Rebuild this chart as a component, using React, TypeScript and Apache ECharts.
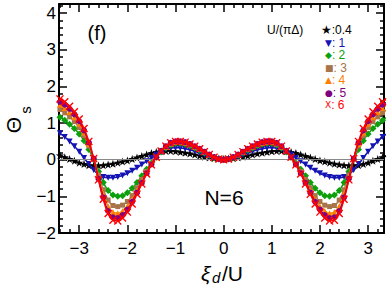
import React, { useEffect, useRef } from 'react';
import * as echarts from 'echarts';

// ξ_d/U sample positions
const xi = [
  -3.4, -3.3, -3.2, -3.1, -3.0, -2.9, -2.8, -2.7, -2.6, -2.5, -2.4, -2.3, -2.2, -2.1, -2.0, -1.9, -1.8,
  -1.7, -1.6, -1.5, -1.4, -1.3, -1.2, -1.1, -1.0, -0.9, -0.8, -0.7, -0.6, -0.5, -0.4, -0.3, -0.2, -0.1,
  0.0, 0.1, 0.2, 0.3, 0.4, 0.5, 0.6, 0.7, 0.8, 0.9, 1.0, 1.1, 1.2, 1.3, 1.4, 1.5, 1.6, 1.7,
  1.8, 1.9, 2.0, 2.1, 2.2, 2.3, 2.4, 2.5, 2.6, 2.7, 2.8, 2.9, 3.0, 3.1, 3.2, 3.3, 3.4,
];

// Θs for U/(πΔ) = 0.4
const thetaU04 = [
  0.12, 0.07, 0.02, -0.03, -0.08, -0.12, -0.15, -0.16, -0.16, -0.15, -0.13, -0.11, -0.08, -0.05, -0.02, 0.02, 0.06,
  0.10, 0.14, 0.18, 0.21, 0.23, 0.24, 0.24, 0.23, 0.21, 0.19, 0.17, 0.14, 0.11, 0.08, 0.06, 0.04, 0.03,
  0.02, 0.03, 0.04, 0.06, 0.08, 0.11, 0.14, 0.17, 0.19, 0.21, 0.23, 0.24, 0.24, 0.23, 0.21, 0.18, 0.14, 0.10,
  0.06, 0.02, -0.02, -0.05, -0.08, -0.11, -0.13, -0.15, -0.16, -0.16, -0.15, -0.12, -0.08, -0.03, 0.02, 0.07, 0.12,
];
// U/(πΔ) = 1
const thetaU1 = [
  0.72, 0.62, 0.50, 0.37, 0.22, 0.05, -0.12, -0.28, -0.40, -0.47, -0.49, -0.49, -0.47, -0.43, -0.37, -0.30, -0.22,
  -0.13, -0.04, 0.05, 0.14, 0.22, 0.28, 0.32, 0.33, 0.32, 0.30, 0.27, 0.23, 0.18, 0.13, 0.08, 0.04, 0.01,
  0.00, 0.01, 0.04, 0.08, 0.13, 0.18, 0.23, 0.27, 0.30, 0.32, 0.33, 0.32, 0.28, 0.22, 0.14, 0.05, -0.04, -0.13,
  -0.22, -0.30, -0.37, -0.43, -0.47, -0.49, -0.49, -0.47, -0.40, -0.28, -0.12, 0.05, 0.22, 0.37, 0.50, 0.62, 0.72,
];
// U/(πΔ) = 2
const thetaU2 = [
  1.16, 1.08, 0.97, 0.85, 0.70, 0.52, 0.28, 0.00, -0.32, -0.62, -0.84, -0.96, -1.00, -0.98, -0.90, -0.78, -0.62,
  -0.44, -0.26, -0.09, 0.07, 0.21, 0.32, 0.40, 0.44, 0.44, 0.42, 0.38, 0.32, 0.26, 0.19, 0.12, 0.06, 0.02,
  0.00, 0.02, 0.06, 0.12, 0.19, 0.26, 0.32, 0.38, 0.42, 0.44, 0.44, 0.40, 0.32, 0.21, 0.07, -0.09, -0.26, -0.44,
  -0.62, -0.78, -0.90, -0.98, -1.00, -0.96, -0.84, -0.62, -0.32, 0.00, 0.28, 0.52, 0.70, 0.85, 0.97, 1.08, 1.16,
];
// U/(πΔ) = 3
const thetaU3 = [
  1.37, 1.28, 1.17, 1.04, 0.88, 0.66, 0.38, 0.02, -0.42, -0.82, -1.10, -1.25, -1.28, -1.24, -1.14, -0.98, -0.77,
  -0.54, -0.32, -0.11, 0.07, 0.23, 0.35, 0.43, 0.47, 0.47, 0.45, 0.41, 0.35, 0.28, 0.21, 0.13, 0.07, 0.02,
  0.00, 0.02, 0.07, 0.13, 0.21, 0.28, 0.35, 0.41, 0.45, 0.47, 0.47, 0.43, 0.35, 0.23, 0.07, -0.11, -0.32, -0.54,
  -0.77, -0.98, -1.14, -1.24, -1.28, -1.25, -1.10, -0.82, -0.42, 0.02, 0.38, 0.66, 0.88, 1.04, 1.17, 1.28, 1.37,
];
// U/(πΔ) = 4
const thetaU4 = [
  1.50, 1.41, 1.30, 1.16, 0.98, 0.74, 0.43, 0.03, -0.47, -0.93, -1.27, -1.43, -1.46, -1.40, -1.27, -1.08, -0.85,
  -0.60, -0.35, -0.12, 0.07, 0.24, 0.36, 0.45, 0.49, 0.49, 0.47, 0.42, 0.36, 0.29, 0.22, 0.14, 0.07, 0.02,
  0.00, 0.02, 0.07, 0.14, 0.22, 0.29, 0.36, 0.42, 0.47, 0.49, 0.49, 0.45, 0.36, 0.24, 0.07, -0.12, -0.35, -0.60,
  -0.85, -1.08, -1.27, -1.40, -1.46, -1.43, -1.27, -0.93, -0.47, 0.03, 0.43, 0.74, 0.98, 1.16, 1.30, 1.41, 1.50,
];
// U/(πΔ) = 5
const thetaU5 = [
  1.58, 1.50, 1.39, 1.24, 1.05, 0.80, 0.47, 0.03, -0.52, -1.03, -1.40, -1.57, -1.59, -1.51, -1.36, -1.15, -0.90,
  -0.63, -0.37, -0.13, 0.07, 0.24, 0.37, 0.46, 0.50, 0.50, 0.48, 0.43, 0.37, 0.30, 0.22, 0.14, 0.07, 0.02,
  0.00, 0.02, 0.07, 0.14, 0.22, 0.30, 0.37, 0.43, 0.48, 0.50, 0.50, 0.46, 0.37, 0.24, 0.07, -0.13, -0.37, -0.63,
  -0.90, -1.15, -1.36, -1.51, -1.59, -1.57, -1.40, -1.03, -0.52, 0.03, 0.47, 0.80, 1.05, 1.24, 1.39, 1.50, 1.58,
];
// U/(πΔ) = 6
const thetaU6 = [
  1.66, 1.58, 1.46, 1.31, 1.11, 0.85, 0.50, 0.03, -0.55, -1.08, -1.47, -1.65, -1.67, -1.59, -1.43, -1.21, -0.94,
  -0.66, -0.39, -0.14, 0.07, 0.24, 0.37, 0.46, 0.50, 0.50, 0.48, 0.43, 0.37, 0.30, 0.22, 0.14, 0.07, 0.02,
  0.00, 0.02, 0.07, 0.14, 0.22, 0.30, 0.37, 0.43, 0.48, 0.50, 0.50, 0.46, 0.37, 0.24, 0.07, -0.14, -0.39, -0.66,
  -0.94, -1.21, -1.43, -1.59, -1.67, -1.65, -1.47, -1.08, -0.55, 0.03, 0.50, 0.85, 1.11, 1.31, 1.46, 1.58, 1.66,
];

const uLabels = ['0.4', '1', '2', '3', '4', '5', '6'];
const legendGlyphs = ['★', '▼', '◆', '■', '▲', '●', 'X'];
const seriesValues = [thetaU04, thetaU1, thetaU2, thetaU3, thetaU4, thetaU5, thetaU6];

const xMajorTicks = [-3, -2, -1, 0, 1, 2, 3];
const xMinorTicks = [
  -3.4, -3.2, -2.8, -2.6, -2.4, -2.2, -1.8, -1.6, -1.4, -1.2, -0.8, -0.6, -0.4, -0.2,
  0.2, 0.4, 0.6, 0.8, 1.2, 1.4, 1.6, 1.8, 2.2, 2.4, 2.6, 2.8, 3.2,
];
const yMajorTicks = [-2, -1, 0, 1, 2, 3, 4];
const yMinorTicks = [
  -1.8, -1.6, -1.4, -1.2, -0.8, -0.6, -0.4, -0.2, 0.2, 0.4, 0.6, 0.8, 1.2, 1.4, 1.6, 1.8,
  2.2, 2.4, 2.6, 2.8, 3.2, 3.4, 3.6, 3.8, 4.2,
];

const COLORS = ['#000000', '#1414b4', '#0ca00c', '#a8744a', '#ff8000', '#800080', '#ff0000'];
const STAR = 'path://M12,0 L14.9,8.1 L23.4,8.3 L16.6,13.5 L19.1,21.7 L12,16.8 L4.9,21.7 L7.4,13.5 L0.6,8.3 L9.1,8.1 Z';
const XMARK = 'path://M0,1.2 L1.2,0 L5,3.8 L8.8,0 L10,1.2 L6.2,5 L10,8.8 L8.8,10 L5,6.2 L1.2,10 L0,8.8 L3.8,5 Z';
const SYMBOLS = [STAR, 'triangle', 'diamond', 'rect', 'triangle', 'circle', XMARK];
const SYMBOL_ROTATE = [0, 180, 0, 0, 0, 0, 0];
const SYMBOL_SIZE = [8, 6, 7, 5, 6, 6, 8];

const X_MIN = -3.42;
const X_MAX = 3.33;
const Y_MIN = -2;
const Y_MAX = 4.25;
const FONT = '"Liberation Sans", Arial, sans-serif';

const fmt = (v: any) => String(v).replace('-', '\u2212');

function makeX(position: string, ticks: number[], len: number, labels: boolean, line: boolean) {
  return {
    type: 'value',
    position,
    min: X_MIN,
    max: X_MAX,
    axisLine: { show: line, onZero: false, lineStyle: { color: '#000', width: 2 } },
    axisTick: { show: true, inside: true, length: len, customValues: ticks, lineStyle: { color: '#000', width: 1.5 } },
    axisLabel: labels
      ? { show: true, customValues: ticks, formatter: fmt, fontSize: 17, fontFamily: FONT, color: '#000', margin: 7 }
      : { show: false },
    splitLine: { show: false },
  };
}
function makeY(position: string, ticks: number[], len: number, labels: boolean, line: boolean) {
  return {
    type: 'value',
    position,
    min: Y_MIN,
    max: Y_MAX,
    axisLine: { show: line, onZero: false, lineStyle: { color: '#000', width: 2 } },
    axisTick: { show: true, inside: true, length: len, customValues: ticks, lineStyle: { color: '#000', width: 1.5 } },
    axisLabel: labels
      ? { show: true, customValues: ticks, formatter: fmt, fontSize: 17, fontFamily: FONT, color: '#000', margin: 3 }
      : { show: false },
    splitLine: { show: false },
  };
}

export default function App() {
  const ref = useRef<HTMLDivElement>(null);
  useEffect(() => {
    if (!ref.current) return;
    const chart = echarts.init(ref.current, null, { renderer: 'svg' });

    const dataSeries = seriesValues.map((vals, i) => ({
      type: 'line',
      name: uLabels[i],
      xAxisIndex: 0,
      yAxisIndex: 0,
      data: xi.map((x, k) => [x, vals[k]]),
      smooth: true,
      showSymbol: true,
      showAllSymbol: true,
      symbol: SYMBOLS[i],
      symbolSize: SYMBOL_SIZE[i],
      symbolRotate: SYMBOL_ROTATE[i],
      lineStyle: { color: COLORS[i], width: 1.5 },
      itemStyle: { color: COLORS[i], borderWidth: 0 },
      z: 3 + i,
      clip: true,
    }));

    const legendTexts: any[] = [
      {
        type: 'text', x: 267, y: 30,
        style: { text: 'U/(\u03c0\u0394)', fill: '#000', fontSize: 12, lineHeight: 11, fontFamily: FONT, align: 'left', verticalAlign: 'middle' },
      },
    ];
    const legendY = [30, 42.5, 55, 67.5, 80, 92.5, 105];
    uLabels.forEach((u, i) => {
      const first = i === 0;
      legendTexts.push({
        type: 'text', x: first ? 321 : 325, y: legendY[i],
        style: {
          text: '{g|' + legendGlyphs[i] + '}{t|' + (first ? ':' + u : ': ' + u) + '}',
          fill: COLORS[i],
          align: 'left',
          verticalAlign: 'middle',
          rich: {
            g: { fontSize: first ? 12 : 9, lineHeight: 11, fontFamily: 'DejaVu Sans', fill: COLORS[i] },
            t: { fontSize: 12, lineHeight: 11, fontFamily: FONT, fill: COLORS[i] },
          },
        },
      });
    });

    chart.setOption({
      animation: false,
      backgroundColor: '#fff',
      grid: { left: 59, right: 6, top: 4, bottom: 58, containLabel: false },
      xAxis: [
        makeX('bottom', xMajorTicks, 8, true, true),
        makeX('bottom', xMinorTicks, 4, false, false),
        makeX('top', xMajorTicks, 8, false, true),
        makeX('top', xMinorTicks, 4, false, false),
      ],
      yAxis: [
        makeY('left', yMajorTicks, 8, true, true),
        makeY('left', yMinorTicks, 4, false, false),
        makeY('right', yMajorTicks, 8, false, true),
        makeY('right', yMinorTicks, 4, false, false),
      ],
      series: [
        {
          type: 'line',
          name: 'zero',
          xAxisIndex: 0,
          yAxisIndex: 0,
          data: [],
          z: 1,
          markLine: {
            silent: true,
            symbol: 'none',
            label: { show: false },
            lineStyle: { color: '#888', width: 1, type: 'solid' },
            data: [{ yAxis: 0 }],
          },
        },
        ...dataSeries,
      ],
      graphic: [
        {
          type: 'text', x: 97, y: 33,
          style: { text: '(f)', fill: '#000', fontSize: 20, fontFamily: FONT, align: 'center', verticalAlign: 'middle' },
        },
        {
          type: 'text', x: 224, y: 197,
          style: { text: 'N=6', fill: '#000', fontSize: 21, fontFamily: FONT, align: 'center', verticalAlign: 'middle' },
        },
        {
          type: 'text', x: 13, y: 125, rotation: Math.PI / 2,
          style: { text: '\u0398', fill: '#000', fontSize: 21, fontFamily: FONT, align: 'center', verticalAlign: 'middle' },
        },
        {
          type: 'text', x: 25, y: 110, rotation: Math.PI / 2,
          style: { text: 's', fill: '#000', fontSize: 15, fontFamily: FONT, align: 'center', verticalAlign: 'middle' },
        },
        {
          type: 'text', x: 201, y: 273,
          style: { text: '\u03be', fill: '#000', fontSize: 21, fontStyle: 'italic', fontFamily: FONT, align: 'left', verticalAlign: 'middle' },
        },
        {
          type: 'text', x: 212, y: 277,
          style: { text: 'd', fill: '#000', fontSize: 15, fontStyle: 'italic', fontFamily: FONT, align: 'left', verticalAlign: 'middle' },
        },
        {
          type: 'text', x: 222, y: 273,
          style: { text: '/U', fill: '#000', fontSize: 21, fontFamily: FONT, align: 'left', verticalAlign: 'middle' },
        },
        ...legendTexts,
      ],
    });
    return () => chart.dispose();
  }, []);
  return (
    <div
      ref={ref}
      style={{ position: 'fixed', left: 0, top: 0, width: 390, height: 291, background: '#fff' }}
    />
  );
}
